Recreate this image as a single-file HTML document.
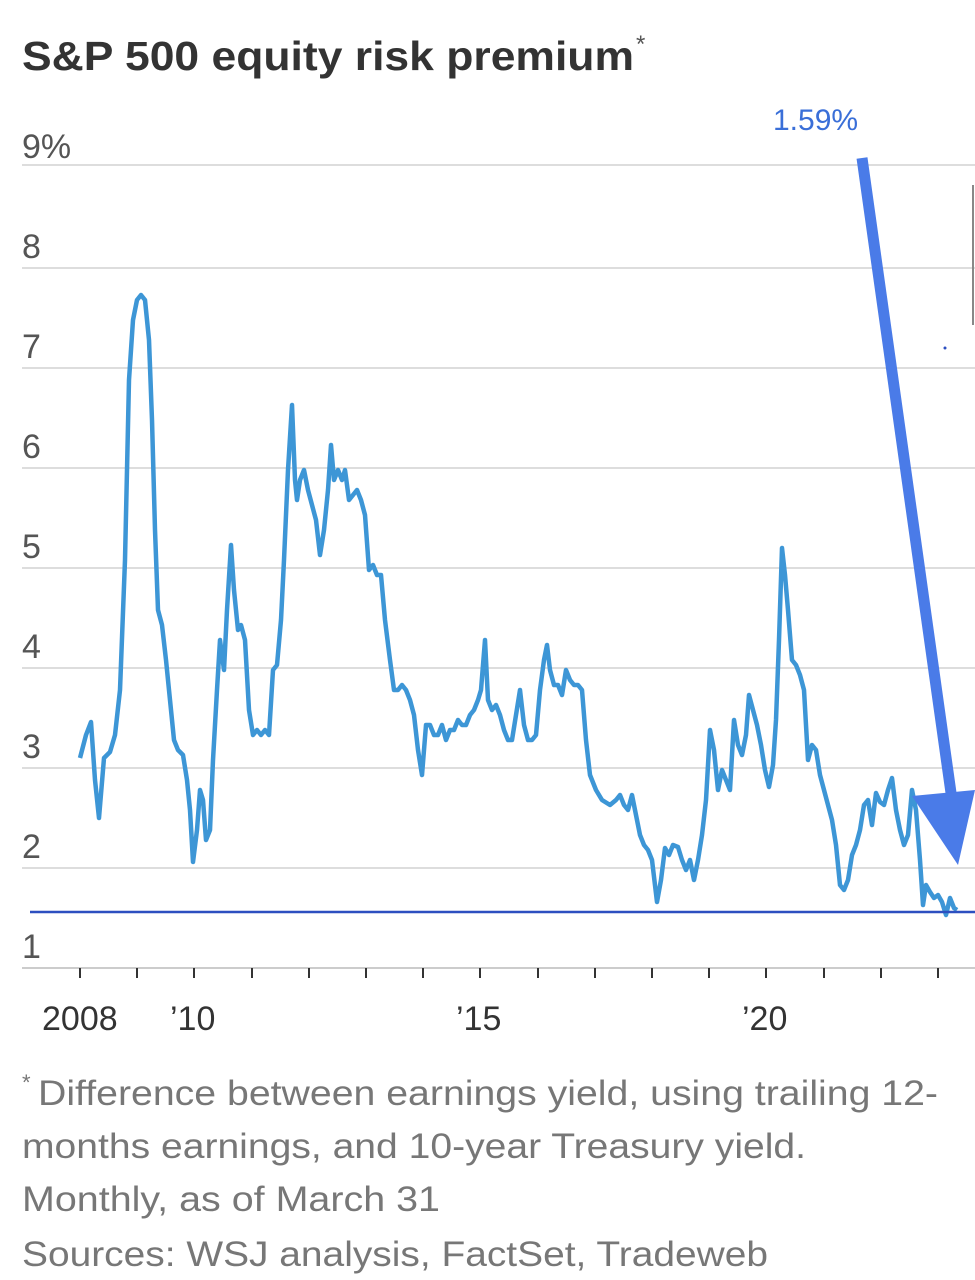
<!DOCTYPE html>
<html><head><meta charset="utf-8"><style>
html,body{margin:0;padding:0;background:#fff;width:975px;height:1280px;overflow:hidden}
svg{display:block}
</style></head><body>
<svg width="975" height="1280" xmlns="http://www.w3.org/2000/svg" font-family="Liberation Sans, sans-serif">
<text x="22" y="70" font-size="41" font-weight="bold" fill="#333" textLength="612" lengthAdjust="spacingAndGlyphs">S&amp;P 500 equity risk premium</text>
<text x="636" y="52" font-size="24" fill="#555">*</text>
<g stroke="#ddd" stroke-width="2">
<line x1="22" y1="165" x2="975" y2="165"/><line x1="22" y1="268" x2="975" y2="268"/>
<line x1="22" y1="368" x2="975" y2="368"/><line x1="22" y1="468" x2="975" y2="468"/>
<line x1="22" y1="568" x2="975" y2="568"/><line x1="22" y1="668" x2="975" y2="668"/>
<line x1="22" y1="768" x2="975" y2="768"/><line x1="22" y1="868" x2="975" y2="868"/>
</g>
<line x1="22" y1="968" x2="975" y2="968" stroke="#ccc" stroke-width="2"/>
<g font-size="34" fill="#555">
<text x="22" y="158">9%</text><text x="22" y="258">8</text><text x="22" y="358">7</text>
<text x="22" y="458">6</text><text x="22" y="558">5</text><text x="22" y="658">4</text>
<text x="22" y="758">3</text><text x="22" y="858">2</text><text x="22" y="958">1</text>
</g>
<g stroke="#333" stroke-width="2">
<line x1="80" y1="968" x2="80" y2="978"/><line x1="137" y1="968" x2="137" y2="978"/><line x1="194" y1="968" x2="194" y2="978"/><line x1="252" y1="968" x2="252" y2="978"/><line x1="309" y1="968" x2="309" y2="978"/><line x1="366" y1="968" x2="366" y2="978"/><line x1="423" y1="968" x2="423" y2="978"/><line x1="480" y1="968" x2="480" y2="978"/><line x1="538" y1="968" x2="538" y2="978"/><line x1="595" y1="968" x2="595" y2="978"/><line x1="652" y1="968" x2="652" y2="978"/><line x1="709" y1="968" x2="709" y2="978"/><line x1="766" y1="968" x2="766" y2="978"/><line x1="824" y1="968" x2="824" y2="978"/><line x1="881" y1="968" x2="881" y2="978"/><line x1="938" y1="968" x2="938" y2="978"/>
</g>
<g font-size="34" fill="#333">
<text x="42" y="1030">2008</text><text x="170" y="1030">’10</text><text x="456" y="1030">’15</text><text x="742" y="1030">’20</text>
</g>
<polyline fill="none" stroke="#3d96d6" stroke-width="4.5" stroke-linejoin="round" points="80,758 86,735 91,722 95,780 99,818 104,758 110,752 115,735 120,690 125,560 129,380 133,320 137,300 141,295 145,300 149,340 152,420 155,530 158,610 162,625 166,660 170,700 174,740 178,750 183,755 187,780 190,810 193,862 197,830 200,790 203,800 206,840 210,830 213,760 217,690 220,640 224,670 227,610 231,545 234,590 238,630 241,625 245,640 249,710 253,735 257,730 261,735 265,730 269,735 273,670 277,665 281,620 284,560 288,470 292,405 295,480 297,500 300,480 304,470 308,490 312,505 316,520 320,555 324,530 328,490 331,445 334,480 338,470 342,480 345,470 349,500 353,495 357,490 361,500 365,515 369,570 373,565 377,575 381,575 385,620 390,660 394,690 398,690 402,685 406,690 410,700 414,715 418,750 422,775 426,725 430,725 434,735 438,735 442,725 446,740 450,730 454,730 458,720 462,725 466,725 470,715 474,710 478,700 481,690 485,640 488,700 492,710 496,705 500,715 504,730 508,740 512,740 516,715 520,690 524,725 528,740 532,740 536,735 540,690 544,660 547,645 550,670 554,685 558,685 562,695 566,670 570,680 574,685 578,685 582,690 586,740 590,775 596,790 602,800 610,805 616,800 620,795 624,805 628,810 632,795 636,815 640,835 644,845 648,850 652,860 657,902 661,880 665,848 669,855 673,845 678,847 682,860 686,870 690,860 694,880 698,860 702,835 706,800 710,730 714,750 718,790 722,770 726,780 730,790 734,720 738,745 742,755 746,735 749,695 753,710 757,725 761,745 765,770 769,787 773,765 776,720 779,640 782,548 785,575 788,610 792,660 796,665 800,675 804,690 808,760 812,745 816,750 820,775 824,790 828,805 832,820 836,845 840,885 844,890 848,880 852,855 856,845 860,830 864,805 868,800 872,825 876,793 880,802 884,805 888,790 892,778 896,810 900,830 904,845 908,835 912,790 916,810 920,860 923,905 926,885 930,892 934,898 938,895 942,902 946,915 950,898 954,908 957,910"/>
<line x1="30" y1="912" x2="975" y2="912" stroke="#2c4fc0" stroke-width="2.5"/>
<line x1="862" y1="158" x2="952" y2="800" stroke="#4a7be8" stroke-width="11"/>
<polygon points="912,796 975,790 958,865" fill="#4a7be8"/>
<text x="773" y="130" font-size="30" fill="#3a6fd8">1.59%</text>
<circle cx="945" cy="348" r="1.5" fill="#2c4fc0"/>
<line x1="973" y1="185" x2="973" y2="325" stroke="#888" stroke-width="2"/>
<g font-size="35" fill="#777">
<text x="22" y="1090" font-size="22">*</text>
<text x="38" y="1105" textLength="900" lengthAdjust="spacingAndGlyphs">Difference between earnings yield, using trailing 12-</text>
<text x="22" y="1158" textLength="784" lengthAdjust="spacingAndGlyphs">months earnings, and 10-year Treasury yield.</text>
<text x="22" y="1211" textLength="418" lengthAdjust="spacingAndGlyphs">Monthly, as of March 31</text>
<text x="22" y="1266" textLength="746" lengthAdjust="spacingAndGlyphs">Sources: WSJ analysis, FactSet, Tradeweb</text>
</g>
</svg>
</body></html>
